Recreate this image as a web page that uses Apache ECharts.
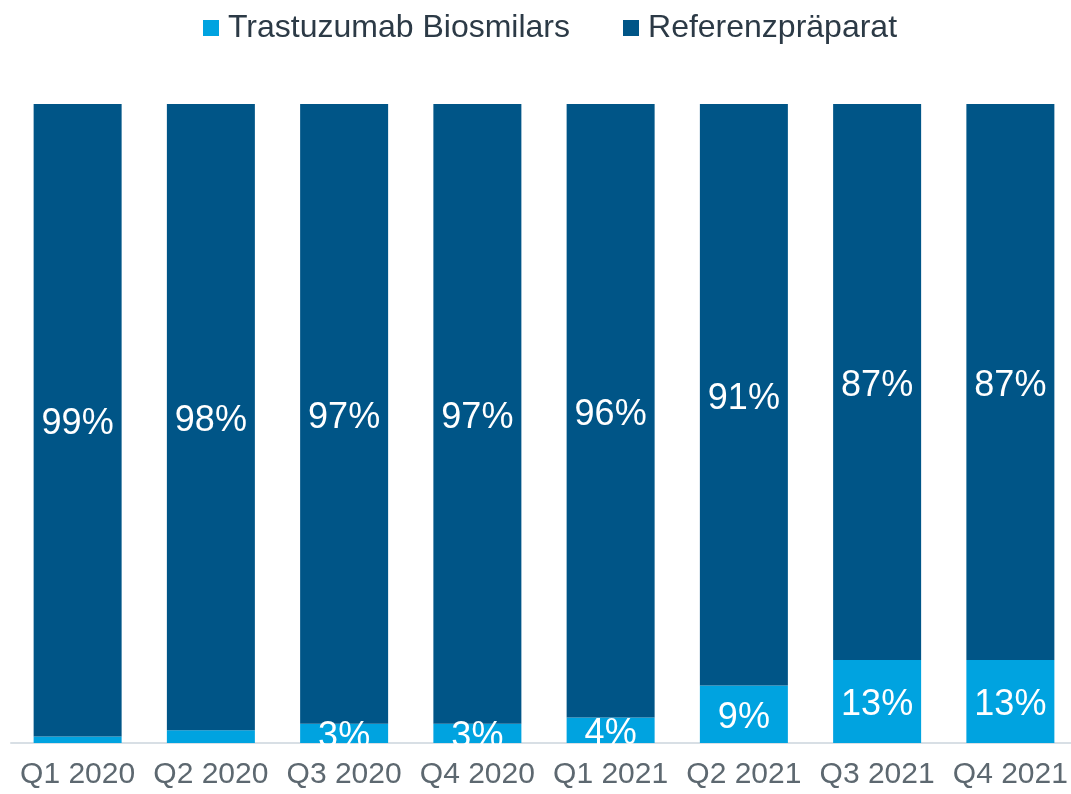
<!DOCTYPE html>
<html>
<head>
<meta charset="utf-8">
<script src="https://cdn.jsdelivr.net/npm/echarts@6/dist/echarts.min.js"></script>
<style>
  html, body { margin: 0; padding: 0; background: #ffffff; }
  #chart { width: 1071px; height: 794px; }
</style>
</head>
<body>
<div id="chart"></div>
<script>
// Quarterly market share of trastuzumab: biosimilars vs. reference product (%)
var quarters = ['Q1 2020', 'Q2 2020', 'Q3 2020', 'Q4 2020', 'Q1 2021', 'Q2 2021', 'Q3 2021', 'Q4 2021'];
var biosimilarShare = [1, 2, 3, 3, 4, 9, 13, 13];
var referenceShare = [99, 98, 97, 97, 96, 91, 87, 87];
var seriesNames = ['Trastuzumab Biosmilars', 'Referenzpräparat'];

var FONT = '"Liberation Sans", Arial, sans-serif';
var LIGHT = '#00a3e0';
var DARK = '#005587';
var GRID_BOTTOM = 51;

function pctLabel(p) {
  return p.value >= 3 ? p.value + '%' : '';
}

var valueLabel = {
  show: true,
  position: 'inside',
  offset: [0, 4],
  formatter: pctLabel,
  fontFamily: FONT,
  fontSize: 36,
  color: '#ffffff'
};

var chart = echarts.init(document.getElementById('chart'), null, { renderer: 'canvas' });

chart.setOption({
  backgroundColor: '#ffffff',
  animation: false,
  legend: {
    data: seriesNames,
    left: 198,
    top: 7,
    itemWidth: 16,
    itemHeight: 16,
    itemGap: 53,
    icon: 'rect',
    textStyle: {
      fontFamily: FONT,
      fontSize: 32,
      color: '#2c3a46',
      padding: [0, 0, 0, 4]
    }
  },
  grid: {
    left: 11,
    top: 104,
    width: 1066,
    bottom: GRID_BOTTOM,
    containLabel: false,
    outerBoundsMode: 'none'
  },
  xAxis: {
    type: 'category',
    data: quarters,
    axisLine: { show: true, lineStyle: { color: '#d8dfe5', width: 2 } },
    axisTick: { show: false },
    axisLabel: {
      interval: 0,
      fontFamily: FONT,
      fontSize: 30,
      color: '#5d6870',
      margin: 17
    }
  },
  yAxis: {
    type: 'value',
    min: 0,
    max: 100,
    show: false,
    splitLine: { show: false }
  },
  series: [
    {
      name: seriesNames[0],
      type: 'bar',
      stack: 'share',
      data: biosimilarShare,
      barWidth: 88,
      itemStyle: { color: LIGHT },
      label: valueLabel
    },
    {
      name: seriesNames[1],
      type: 'bar',
      stack: 'share',
      data: referenceShare,
      barWidth: 88,
      itemStyle: { color: DARK },
      label: valueLabel
    }
  ],
  // white band just under the baseline hides label overflow below the axis
  graphic: [{
    type: 'rect',
    z: 100,
    silent: true,
    shape: { x: 0, y: 794 - GRID_BOTTOM + 1, width: 1071, height: 15 },
    style: { fill: '#ffffff' }
  }]
});
</script>
</body>
</html>
